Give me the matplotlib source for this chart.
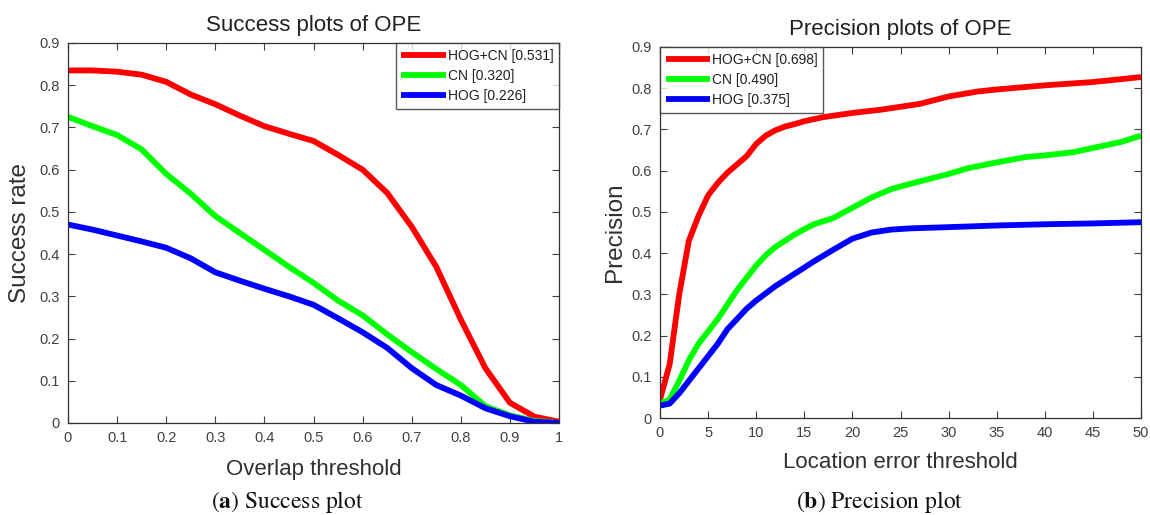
import numpy as np
import matplotlib
matplotlib.use('Agg')
import matplotlib.pyplot as plt

# success plot data (overlap threshold)
overlap = [0.0, 0.05, 0.1, 0.15, 0.2, 0.25, 0.3, 0.35, 0.4, 0.45, 0.5,
           0.55, 0.6, 0.65, 0.7, 0.75, 0.8, 0.85, 0.9, 0.95, 1.0]
succ_hogcn = [0.835, 0.835, 0.832, 0.825, 0.808, 0.778, 0.755, 0.728, 0.703, 0.685, 0.668,
              0.635, 0.600, 0.545, 0.465, 0.370, 0.245, 0.130, 0.048, 0.015, 0.003]
succ_cn = [0.725, 0.703, 0.682, 0.648, 0.590, 0.543, 0.490, 0.450, 0.410, 0.370, 0.332,
           0.290, 0.255, 0.210, 0.168, 0.128, 0.090, 0.040, 0.018, 0.005, 0.000]
succ_hog = [0.470, 0.458, 0.444, 0.430, 0.415, 0.390, 0.357, 0.337, 0.318, 0.300, 0.280,
            0.248, 0.215, 0.178, 0.130, 0.090, 0.065, 0.035, 0.016, 0.003, 0.000]

# precision plot data (location error threshold)
err_red = [0, 1, 2, 3, 4, 5, 6, 7, 8, 9, 10, 11, 12, 13, 14, 15, 17, 20, 23, 25, 27, 30, 33, 35, 40, 45, 50]
prec_hogcn = [0.045, 0.13, 0.30, 0.43, 0.49, 0.54, 0.57, 0.595, 0.615, 0.635, 0.665, 0.685, 0.698, 0.707,
              0.713, 0.72, 0.73, 0.74, 0.748, 0.755, 0.762, 0.78, 0.792, 0.797, 0.807, 0.815, 0.827]
err_green = [0, 1, 2, 3, 4, 5, 6, 7, 8, 9, 10, 11, 12, 13, 14, 15, 16, 18, 20, 22, 24, 26, 28, 30,
             32, 35, 38, 40, 43, 45, 48, 50]
prec_cn = [0.035, 0.045, 0.09, 0.14, 0.18, 0.21, 0.24, 0.275, 0.31, 0.34, 0.37, 0.395, 0.415, 0.43,
           0.445, 0.458, 0.47, 0.485, 0.51, 0.535, 0.555, 0.568, 0.58, 0.592, 0.606, 0.62, 0.633,
           0.637, 0.645, 0.655, 0.67, 0.685]
err_blue = [0, 1, 2, 3, 4, 5, 6, 7, 8, 9, 10, 12, 14, 16, 18, 20, 22, 24, 26, 30, 35, 40, 45, 50]
prec_hog = [0.03, 0.035, 0.06, 0.09, 0.12, 0.15, 0.18, 0.215, 0.24, 0.265, 0.285, 0.32, 0.35, 0.38,
            0.408, 0.435, 0.45, 0.457, 0.46, 0.463, 0.467, 0.47, 0.472, 0.475]

succ_labels = ['HOG+CN [0.531]', 'CN [0.320]', 'HOG [0.226]']
prec_labels = ['HOG+CN [0.698]', 'CN [0.490]', 'HOG [0.375]']
colors = ['#ff0000', '#00ff00', '#0000ff']

plt.rcParams['font.family'] = ['Liberation Sans', 'DejaVu Sans']
tick_col = '#404040'

W, H = 1150, 515
fig = plt.figure(figsize=(W / 100, H / 100), dpi=100)
ax1 = fig.add_axes([68/W, 1-423/H, (559-68)/W, (423-43)/H])
ax2 = fig.add_axes([660/W, 1-418/H, (1141-660)/W, (418-47)/H])


def style(ax):
    ax.tick_params(direction='in', top=True, right=True, labelsize=10.5,
                   colors=tick_col, length=5, width=0.8, pad=6)
    for s in ax.spines.values():
        s.set_color('#303030')
        s.set_linewidth(0.9)


def add_legend(ax, loc):
    leg = ax.legend(loc=loc, fontsize=10, frameon=True, fancybox=False,
                    edgecolor='#303030', handlelength=3.2, handletextpad=0.15,
                    borderaxespad=0.0, borderpad=0.4, labelspacing=0.45)
    leg.get_frame().set_linewidth(1.0)
    for t in leg.get_texts():
        t.set_color('#202020')


lw = 4.2
for y, lab, c in zip([succ_hogcn, succ_cn, succ_hog], succ_labels, colors):
    ax1.plot(overlap, y, color=c, lw=lw, label=lab, solid_capstyle='butt')
ax1.set_xlim(0, 1)
ax1.set_ylim(0, 0.9)
ax1.set_xticks(np.arange(0, 1.01, 0.1))
ax1.set_xticklabels(['0', '0.1', '0.2', '0.3', '0.4', '0.5', '0.6', '0.7', '0.8', '0.9', '1'])
ax1.set_yticks(np.arange(0, 0.91, 0.1))
ax1.set_yticklabels(['0', '0.1', '0.2', '0.3', '0.4', '0.5', '0.6', '0.7', '0.8', '0.9'])
style(ax1)
ax1.set_title('Success plots of OPE', fontsize=16, pad=9, color='#202020')
ax1.set_xlabel('Overlap threshold', fontsize=16, color='#303030', va='center')
ax1.xaxis.set_label_coords(0.5, (423 - 469) / 380)
ax1.set_ylabel('Success rate', fontsize=17.5, color='#303030', va='center')
ax1.yaxis.set_label_coords((20 - 68) / 491, 0.5)
add_legend(ax1, 'upper right')

for x, y, lab, c in zip([err_red, err_green, err_blue], [prec_hogcn, prec_cn, prec_hog], prec_labels, colors):
    ax2.plot(x, y, color=c, lw=lw, label=lab, solid_capstyle='butt')
ax2.set_xlim(0, 50)
ax2.set_ylim(0, 0.9)
ax2.set_xticks(np.arange(0, 51, 5))
ax2.set_yticks(np.arange(0, 0.91, 0.1))
ax2.set_yticklabels(['0', '0.1', '0.2', '0.3', '0.4', '0.5', '0.6', '0.7', '0.8', '0.9'])
style(ax2)
ax2.set_title('Precision plots of OPE', fontsize=16, pad=9, color='#202020')
ax2.set_xlabel('Location error threshold', fontsize=16, color='#303030', va='center')
ax2.xaxis.set_label_coords(0.5, (418 - 462) / 371)
ax2.set_ylabel('Precision', fontsize=17.5, color='#303030', va='center')
ax2.yaxis.set_label_coords((615 - 660) / 481, 0.5)
add_legend(ax2, 'upper left')

cap = dict(fontsize=17, family='STIXGeneral', ha='center', va='center', color='#111111')
fig.text(287/W, 1-502/H, r'($\mathbf{a}$) Success plot', math_fontfamily='stix', **cap)
fig.text(880/W, 1-502/H, r'($\mathbf{b}$) Precision plot', math_fontfamily='stix', **cap)

fig.savefig('out.png', dpi=100)
